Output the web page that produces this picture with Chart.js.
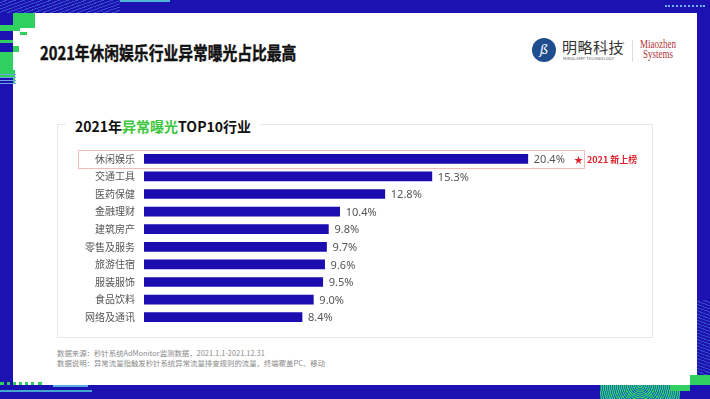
<!DOCTYPE html>
<html>
<head>
<meta charset="utf-8">
<script src="https://cdn.jsdelivr.net/npm/chart.js@4"></script>
<style>
    html, body { margin: 0; padding: 0; }
    body { width: 710px; height: 399px; position: relative; overflow: hidden; background: #1c12b2;
        font-family: "Noto Sans CJK SC", "Noto Sans", sans-serif; }
    .abs { position: absolute; }
    #panel { left: 13px; top: 13px; width: 684px; height: 372px; background: #fff; }
    #title { left: 40px; top: 40px; font-size: 18px; font-weight: bold; color: #111; white-space: nowrap;
        transform: scaleX(0.82); transform-origin: left top; line-height: 24px; -webkit-text-stroke: 0.4px #111; }
    #box { left: 57px; top: 124px; width: 594px; height: 212px; border: 1px solid #e4e8ea; }
    #sub { left: 66px; top: 116px; padding: 0 9px 0 9px; background: #fff; font-size: 14px; font-weight: bold;
        color: #111; line-height: 20px; white-space: nowrap; }
    #sub span { color: #3cc63c; }
    #chart { left: 60px; top: 144px; }
    .note { left: 57px; font-size: 7.4px; color: #8a8a8a; white-space: nowrap; line-height: 10px; }
    #logoCircle { left: 532px; top: 38px; width: 24px; height: 24px; border-radius: 50%; background: #1f4d8e;
        color: #fff; font-size: 13px; font-style: italic; line-height: 24px; text-align: center; font-family: "DejaVu Serif", serif; }
    #logoText { left: 562px; top: 38px; font-size: 15px; color: #333; line-height: 18px; letter-spacing: 0.5px; }
    #logoSub { left: 563px; top: 56px; font-size: 4px; color: #555; line-height: 5px; letter-spacing: 0.2px; }
    #logoR { left: 622px; top: 40px; font-size: 5px; color: #777; }
    #sep { left: 632px; top: 40px; width: 1px; height: 22px; background: #ddd; }
    #mz { left: 640px; top: 39px; font-family: "Liberation Serif", serif; color: #b3333a; font-size: 12px;
        line-height: 10px; transform: scaleX(0.75); transform-origin: left top; text-align: center; }
</style>
</head>
<body>
<!-- frame decoration -->
<div class="abs" style="left:120px;top:0;width:50px;height:2px;background:#4bb6d6"></div>
<div class="abs" style="left:562px;top:13px;width:36px;height:2px;background:#5aa8e0"></div>
<div class="abs" style="left:642px;top:13px;width:55px;height:2px;background:#3bc27a"></div>
<div class="abs" style="left:665px;top:5px;width:40px;height:0;border-top:2px dotted #6fb0e8"></div>
<div class="abs" style="left:0;top:0;width:120px;height:13px;background:repeating-linear-gradient(160deg,#1c12b2 0 2px,#3b5fd0 2px 3px);opacity:0.8"></div>

<div id="panel" class="abs"></div>

<div class="abs" style="left:13px;top:13px;width:22px;height:15px;background:#2fd060"></div>
<div class="abs" style="left:0;top:25px;width:20px;height:6px;background:#2fd060"></div>
<div class="abs" style="left:20px;top:32px;width:7px;height:3px;background:#2fd060"></div>
<div class="abs" style="left:0;top:40px;width:13px;height:3px;background:#2fd060"></div>
<div class="abs" style="left:13px;top:46px;width:6px;height:6px;background:#2fd060"></div>
<div class="abs" style="left:0;top:52px;width:13px;height:26px;background:#2fd060"></div>
<div class="abs" style="left:13px;top:70px;width:2px;height:14px;background:#2fd060"></div>
<div class="abs" style="left:0;top:72px;width:16px;height:12px;background:repeating-linear-gradient(180deg,transparent 0 2px,#6fa6e6 2px 3px)"></div>

<div class="abs" style="left:0;top:382px;width:42px;height:0;border-top:3px dotted #2fd060"></div>
<div class="abs" style="left:0;top:390px;width:92px;height:2px;background:#42a6d0"></div>
<div class="abs" style="left:53px;top:385px;width:35px;height:2px;background:#58b2e0"></div>
<div class="abs" style="left:600px;top:385px;width:80px;height:14px;background:repeating-radial-gradient(circle at 40px 0,#2fd060 0 1px,#1f6ec0 1px 2px)"></div>
<div class="abs" style="left:690px;top:375px;width:20px;height:10px;background:#2fd060"></div>
<div class="abs" style="left:670px;top:385px;width:20px;height:6px;background:#2fd060"></div>
<div class="abs" style="left:697px;top:300px;width:13px;height:75px;background:repeating-linear-gradient(200deg,#1c12b2 0 2px,#3b5fd0 2px 3px);opacity:0.7"></div>

<div id="title" class="abs">2021年休闲娱乐行业异常曝光占比最高</div>

<div id="logoCircle" class="abs">ß</div>
<div id="logoText" class="abs">明略科技</div>
<div id="logoR" class="abs">®</div>
<div id="logoSub" class="abs">MINGLAMP TECHNOLOGY</div>
<div id="sep" class="abs"></div>
<div id="mz" class="abs">Miaozhen<br>Systems</div>

<div id="box" class="abs"></div>
<div id="sub" class="abs">2021年<span>异常曝光</span>TOP10行业</div>

<canvas id="chart" class="abs" width="592" height="188"></canvas>

<div class="abs note" style="top:348px">数据来源：秒针系统AdMonitor监测数据，2021.1.1-2021.12.31</div>
<div class="abs note" style="top:358px">数据说明：异常流量指触发秒针系统异常流量排查规则的流量，终端覆盖PC、移动</div>

<script>
    // 行業與異常曝光占比
    const industries = ['休闲娱乐', '交通工具', '医药保健', '金融理财', '建筑房产', '零售及服务', '旅游住宿', '服装服饰', '食品饮料', '网络及通讯'];
    const shares = [20.4, 15.3, 12.8, 10.4, 9.8, 9.7, 9.6, 9.5, 9.0, 8.4];
    const highlightLabel = '2021 新上榜';

    const barColor = '#1b0db0';

    /**
     * 數值標籤與第一名的框
     */
    const labelPlugin = {
        id: 'labels',
        afterDatasetsDraw(chart) {
            const ctx = chart.ctx;
            const meta = chart.getDatasetMeta(0);
            const yScale = chart.scales.y;
            ctx.save();

            // 第一名外框
            const y0 = yScale.getPixelForValue(0);
            ctx.strokeStyle = '#f2bcbc';
            ctx.lineWidth = 1;
            ctx.strokeRect(18.5, Math.round(y0) - 8.5, 506, 18);

            ctx.font = '11px "Noto Sans", "DejaVu Sans", sans-serif';
            ctx.fillStyle = '#555';
            ctx.textBaseline = 'middle';
            meta.data.forEach((bar, i) => {
                ctx.fillText(shares[i].toFixed(1) + '%', bar.x + 6, bar.y + 1);
            });

            // 新上榜標記
            ctx.fillStyle = '#e0222c';
            ctx.font = 'bold 9px "Noto Sans CJK SC", sans-serif';
            ctx.fillText('★', 514, y0 + 1);
            ctx.fillText(highlightLabel, 527, y0 + 1);
            ctx.restore();
        }
    };

    new Chart(document.getElementById('chart'), {
        type: 'bar',
        data: {
            labels: industries,
            datasets: [{
                data: shares,
                backgroundColor: barColor,
                barThickness: 9
            }]
        },
        options: {
            indexAxis: 'y',
            responsive: false,
            animation: false,
            layout: { padding: { top: 6, bottom: 6, left: 0, right: 0 } },
            plugins: {
                legend: { display: false },
                tooltip: { enabled: false }
            },
            scales: {
                x: {
                    display: false,
                    min: 0,
                    max: 27
                },
                y: {
                    grid: { display: false, drawTicks: false },
                    border: { display: false },
                    ticks: {
                        color: '#555',
                        padding: 9,
                        font: { size: 10, family: '"Noto Sans CJK SC", sans-serif' }
                    },
                    afterFit(scale) {
                        scale.width = 84;
                        scale.paddingTop = 0;
                        scale.paddingBottom = 0;
                    }
                }
            }
        },
        plugins: [labelPlugin]
    });
</script>
</body>
</html>
